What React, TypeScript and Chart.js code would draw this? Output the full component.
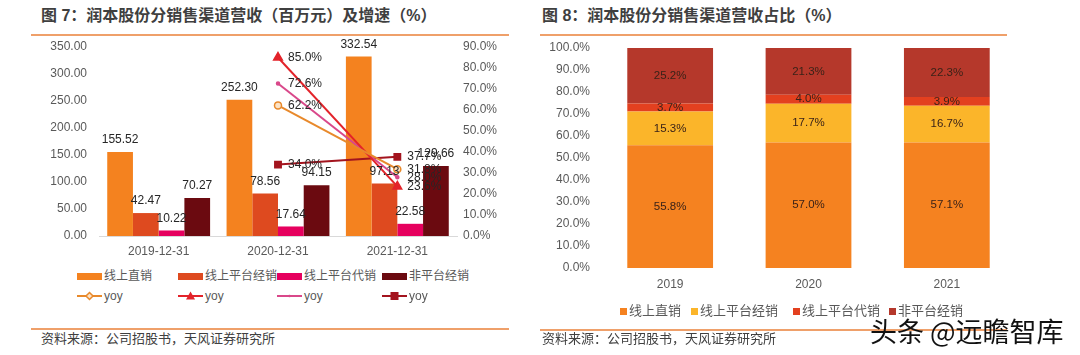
import React, { useEffect, useRef } from "react";
import { Chart, registerables } from "chart.js";
Chart.register(...registerables);

// ---------- data ----------
const categoriesLeft = ["2019-12-31", "2020-12-31", "2021-12-31"];
const seriesNames = ["线上直销", "线上平台经销", "线上平台代销", "非平台经销"];
const directSales = [155.52, 252.3, 332.54];
const platformDealer = [42.47, 78.56, 97.13];
const platformAgency = [10.22, 17.64, 22.58];
const nonPlatform = [70.27, 94.15, 129.66];
const directYoy = [null, 62.2, 31.8];
const dealerYoy = [null, 85.0, 23.6];
const agencyYoy = [null, 72.6, 28.0];
const nonPlatformYoy = [null, 34.0, 37.7];

const years = ["2019", "2020", "2021"];
const shareDirect = [55.8, 57.0, 57.1];
const shareDealer = [15.3, 17.7, 16.7];
const shareAgency = [3.7, 4.0, 3.9];
const shareNonPlatform = [25.2, 21.3, 22.3];

const leftTitle = "图 7：润本股份分销售渠道营收（百万元）及增速（%）";
const rightTitle = "图 8：润本股份分销售渠道营收占比（%）";
const sourceText = "资料来源：公司招股书，天风证券研究所";
const watermark = "头条 @远瞻智库";

// ---------- styles ----------
const FONT = "'Liberation Sans', Arial, 'Noto Sans CJK SC', sans-serif";
const barColors = ["#F4821F", "#DE4A1F", "#E6005E", "#6B0A10"];
const lineColors = ["#E8892B", "#E3232A", "#D9488A", "#A3141E"];
const shareColors = ["#F58220", "#FBB52A", "#E3401F", "#B5382B"];
const TICK = "#595959";
const ACCENT = "#EFA06A";

const leftLabelPlugin = {
  id: "leftLabels",
  afterDatasetsDraw(chart: any) {
    const ctx = chart.ctx;
    chart.data.datasets.forEach((ds: any, i: number) => {
      const meta = chart.getDatasetMeta(i);
      meta.data.forEach((el: any, j: number) => {
        const v = ds.data[j];
        if (v == null) return;
        const p = el.getProps(["x", "y"], true);
        ctx.save();
        ctx.font = `12px ${FONT}`;
        ctx.fillStyle = "#262626";
        ctx.textBaseline = "middle";
        if (ds.type === "line") {
          ctx.textAlign = "left";
          ctx.fillText(v.toFixed(1) + "%", p.x + 10, p.y);
        } else {
          ctx.textAlign = "center";
          ctx.fillText(v.toFixed(2), p.x, p.y - 12);
        }
        ctx.restore();
      });
    });
  },
};

const rightLabelPlugin = {
  id: "rightLabels",
  afterDatasetsDraw(chart: any) {
    const ctx = chart.ctx;
    chart.data.datasets.forEach((ds: any, i: number) => {
      const meta = chart.getDatasetMeta(i);
      meta.data.forEach((el: any, j: number) => {
        const v = ds.data[j];
        const p = el.getProps(["x", "y", "base"], true);
        ctx.save();
        ctx.font = `11.5px ${FONT}`;
        ctx.fillStyle = "#3a2218";
        ctx.textBaseline = "middle";
        ctx.textAlign = "center";
        ctx.fillText(v.toFixed(1) + "%", p.x, (p.y + p.base) / 2);
        ctx.restore();
      });
    });
  },
};

function LineSwatch({ color, kind }: { color: string; kind: string }) {
  let marker: any = null;
  if (kind === "diamond")
    marker = <polygon points="12.5,1.5 16,5 12.5,8.5 9,5" fill="#FCE3C6" stroke={color} strokeWidth="1.5" />;
  else if (kind === "triangle") marker = <polygon points="12.5,0.5 17,8.5 8,8.5" fill={color} />;
  else if (kind === "square") marker = <rect x="8.5" y="1" width="8" height="8" fill={color} />;
  else marker = <circle cx="12.5" cy="5" r="1.3" fill={color} />;
  return (
    <svg width="25" height="10" style={{ display: "block" }}>
      <line x1="0" y1="5" x2="25" y2="5" stroke={color} strokeWidth="2" />
      {marker}
    </svg>
  );
}

const fixVertical = (w: number) => (s: any) => {
  s.width = w;
  s.paddingTop = 0;
  s.paddingBottom = 0;
};

export default function App() {
  const leftRef = useRef<HTMLCanvasElement>(null);
  const rightRef = useRef<HTMLCanvasElement>(null);

  useEffect(() => {
    Chart.defaults.font.family = FONT;
    const barData = [directSales, platformDealer, platformAgency, nonPlatform];
    const yoyData = [directYoy, dealerYoy, agencyYoy, nonPlatformYoy];
    const pointStyles = ["circle", "triangle", "circle", "rect"];
    const pointRadii = [3.5, 5, 1.5, 4.5];
    const pointBg = ["#FCE3C6", lineColors[1], lineColors[2], lineColors[3]];

    const c1 = new Chart(leftRef.current as HTMLCanvasElement, {
      type: "bar",
      data: {
        labels: categoriesLeft,
        datasets: [
          ...barData.map((d, i) => ({
            type: "bar" as const,
            label: seriesNames[i],
            data: d,
            backgroundColor: barColors[i],
            yAxisID: "y",
            order: 2,
            categoryPercentage: 0.862,
            barPercentage: 1,
          })),
          ...yoyData.map((d, i) => ({
            type: "line" as const,
            label: "yoy",
            data: d as any,
            borderColor: lineColors[i],
            borderWidth: 2,
            backgroundColor: pointBg[i],
            pointStyle: pointStyles[i],
            pointRadius: pointRadii[i],
            pointBorderColor: lineColors[i],
            pointBorderWidth: 1.5,
            yAxisID: "y1",
            order: 1,
            fill: false,
          })),
        ] as any,
      },
      options: {
        responsive: false,
        animation: false,
        devicePixelRatio: 1,
        layout: { padding: { top: 11, left: 0, right: 0, bottom: 0 } },
        plugins: { legend: { display: false }, tooltip: { enabled: false } },
        scales: {
          x: {
            grid: { display: false, drawTicks: false },
            border: { display: true, color: "#D9D9D9" },
            ticks: { padding: 8, color: TICK, font: { size: 12 } },
            afterFit: (s: any) => {
              s.height = 26;
            },
          },
          y: {
            position: "left",
            min: 0,
            max: 350,
            grid: { display: false, drawTicks: false },
            border: { display: false },
            ticks: {
              stepSize: 50,
              padding: 12,
              color: TICK,
              font: { size: 12 },
              callback: (v: any) => Number(v).toFixed(2),
            },
            afterFit: fixVertical(99),
          },
          y1: {
            position: "right",
            min: 0,
            max: 90,
            grid: { display: false, drawTicks: false },
            border: { display: false },
            ticks: {
              stepSize: 10,
              padding: 6,
              color: TICK,
              font: { size: 12 },
              callback: (v: any) => Number(v).toFixed(1) + "%",
            },
            afterFit: fixVertical(83),
          },
        } as any,
      },
      plugins: [leftLabelPlugin],
    });

    const shareData = [shareDirect, shareDealer, shareAgency, shareNonPlatform];
    const c2 = new Chart(rightRef.current as HTMLCanvasElement, {
      type: "bar",
      data: {
        labels: years,
        datasets: shareData.map((d, i) => ({
          label: seriesNames[i],
          data: d,
          backgroundColor: shareColors[i],
          categoryPercentage: 0.62,
          barPercentage: 1,
        })),
      },
      options: {
        responsive: false,
        animation: false,
        devicePixelRatio: 1,
        layout: { padding: { top: 12, left: 0, right: 64, bottom: 0 } },
        plugins: { legend: { display: false }, tooltip: { enabled: false } },
        scales: {
          x: {
            stacked: true,
            grid: { display: false, drawTicks: false },
            border: { display: false },
            ticks: { padding: 9, color: TICK, font: { size: 12 } },
            afterFit: (s: any) => {
              s.height = 27;
            },
          },
          y: {
            stacked: true,
            min: 0,
            max: 100,
            grid: { display: false, drawTicks: false },
            border: { display: false },
            ticks: {
              stepSize: 10,
              padding: 11,
              color: TICK,
              font: { size: 12 },
              callback: (v: any) => Number(v).toFixed(1) + "%",
            },
            afterFit: fixVertical(61),
          },
        } as any,
      },
      plugins: [rightLabelPlugin],
    });

    return () => {
      c1.destroy();
      c2.destroy();
    };
  }, []);

  const cjk = "'Liberation Sans', 'Noto Sans CJK SC', sans-serif";
  const abs = (o: any) => ({ position: "absolute" as const, ...o });

  const leftLegendX = [77, 178, 277, 382];
  const lineKinds = ["diamond", "triangle", "dot", "square"];
  const rightLegendX = [620, 691, 793, 889];

  return (
    <div
      style={abs({
        left: 0,
        top: 0,
        width: 1080,
        height: 355,
        background: "#fff",
        overflow: "hidden",
        fontFamily: cjk,
      })}
    >
      {/* titles */}
      <div style={abs({ left: 41, top: 5, fontSize: 16, lineHeight: "21px", fontWeight: 700, color: "#3F3F3F", whiteSpace: "nowrap" })}>
        {leftTitle}
      </div>
      <div style={abs({ left: 542, top: 5, fontSize: 16, lineHeight: "21px", fontWeight: 700, color: "#3F3F3F", whiteSpace: "nowrap" })}>
        {rightTitle}
      </div>
      <div style={abs({ left: 31, top: 34, width: 478, height: 1.5, background: ACCENT })} />
      <div style={abs({ left: 540, top: 34, width: 467, height: 1.5, background: ACCENT })} />

      {/* charts */}
      <canvas ref={leftRef} width={540} height={226} style={abs({ left: 0, top: 36, width: 540, height: 226 })} />
      <canvas ref={rightRef} width={540} height={259} style={abs({ left: 540, top: 36, width: 540, height: 259 })} />

      {/* left legend */}
      {seriesNames.map((n, i) => (
        <div key={"lb" + i} style={abs({ left: leftLegendX[i], top: 267, height: 18, display: "flex", alignItems: "center" })}>
          <div style={{ width: 25, height: 7, background: barColors[i], marginRight: 2 }} />
          <span style={{ fontSize: 12, lineHeight: "18px", color: TICK, whiteSpace: "nowrap" }}>{n}</span>
        </div>
      ))}
      {lineKinds.map((k, i) => (
        <div key={"ll" + i} style={abs({ left: leftLegendX[i], top: 287, height: 18, display: "flex", alignItems: "center" })}>
          <LineSwatch color={lineColors[i]} kind={k} />
          <span style={{ fontSize: 12, lineHeight: "18px", color: TICK, marginLeft: 2 }}>yoy</span>
        </div>
      ))}

      {/* right legend */}
      {seriesNames.map((n, i) => (
        <div key={"rl" + i} style={abs({ left: rightLegendX[i], top: 301, height: 20, display: "flex", alignItems: "center" })}>
          <div style={{ width: 7, height: 7, background: shareColors[i], marginRight: 2 }} />
          <span style={{ fontSize: 13, lineHeight: "20px", color: TICK, whiteSpace: "nowrap" }}>{n}</span>
        </div>
      ))}

      {/* footers */}
      <div style={abs({ left: 31, top: 328, width: 478, height: 1.5, background: ACCENT })} />
      <div style={abs({ left: 540, top: 329, width: 467, height: 1.5, background: ACCENT })} />
      <div style={abs({ left: 41, top: 329, fontSize: 13, lineHeight: "20px", color: "#404040", whiteSpace: "nowrap" })}>
        {sourceText}
      </div>
      <div style={abs({ left: 542, top: 329, fontSize: 13, lineHeight: "20px", color: "#404040", whiteSpace: "nowrap" })}>
        {sourceText}
      </div>
      <div style={abs({ left: 870, top: 315, fontSize: 27, lineHeight: "32px", color: "#111", whiteSpace: "nowrap", fontFamily: "'Noto Sans CJK SC', sans-serif" })}>
        {watermark}
      </div>
    </div>
  );
}
